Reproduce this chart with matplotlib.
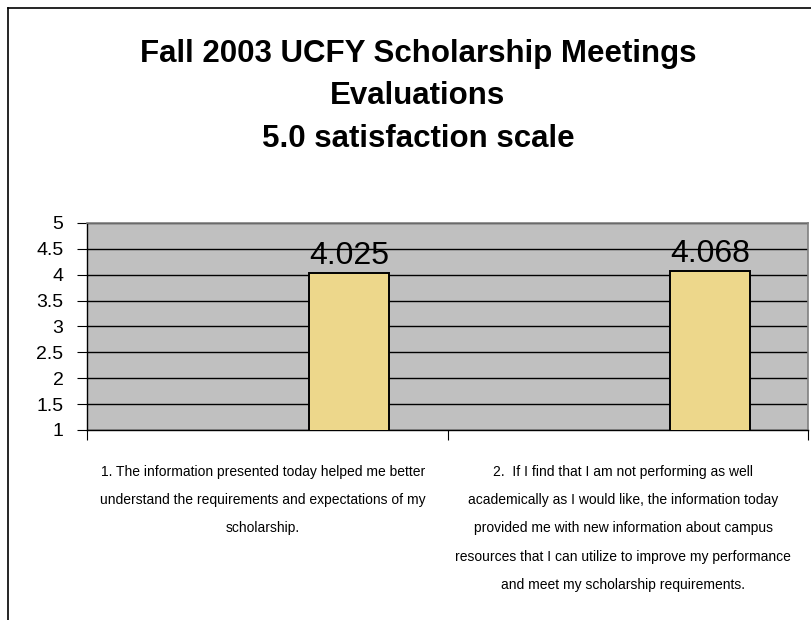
import matplotlib
matplotlib.use('Agg')
import matplotlib.pyplot as plt
from matplotlib.lines import Line2D

# ---- data ----
title_lines = ["Fall 2003 UCFY Scholarship Meetings", "Evaluations",
               "5.0 satisfaction scale"]
questions = [
    "1. The information presented today helped me better\n"
    "understand the requirements and expectations of my\n"
    "scholarship.",
    "2.  If I find that I am not performing as well\n"
    "academically as I would like, the information today\n"
    "provided me with new information about campus\n"
    "resources that I can utilize to improve my performance\n"
    "and meet my scholarship requirements.",
]
scores = [4.025, 4.068]
score_labels = ["4.025", "4.068"]
yticks = [1, 1.5, 2, 2.5, 3, 3.5, 4, 4.5, 5]
ytick_labels = ["1", "1.5", "2", "2.5", "3", "3.5", "4", "4.5", "5"]

plt.rcParams['font.family'] = ['Liberation Sans', 'DejaVu Sans']

W, H = 811, 620
fig = plt.figure(figsize=(W / 100, H / 100), dpi=100)

# outer chart border (cropped on right/bottom)
fig.add_artist(Line2D([8 / W, 8 / W], [0, 1 - 8 / H], color='black', lw=1.2))
fig.add_artist(Line2D([8 / W, 1], [1 - 8 / H, 1 - 8 / H], color='black', lw=1.2))

# title, three centred lines (chart area is wider than the crop)
for line, y_px in zip(title_lines, [62, 104, 147]):
    fig.text(418 / W, 1 - y_px / H, line, ha='center', va='baseline',
             fontsize=22.5, fontweight='bold')

ax = fig.add_axes([87 / W, 190 / H, 721 / W, 207 / H])
ax.set_facecolor('#C0C0C0')

idx = list(range(len(scores)))
xpos = [i + 0.228 for i in idx]
ax.bar(xpos, scores, width=0.222, color='#EDD78B', edgecolor='black',
       linewidth=1.4, zorder=3)

for x, v, s in zip(xpos, scores, score_labels):
    ax.annotate(s, (x, v), xytext=(0, 7), textcoords='offset points',
                ha='center', va='baseline', fontsize=23, zorder=4)

ax.set_ylim(1, 5)
ax.set_xlim(-0.5, len(scores) - 0.5)
ax.set_yticks(yticks)
ax.set_yticklabels(ytick_labels, fontsize=14)
ax.yaxis.grid(True, color='black', linewidth=1.0, zorder=1)
ax.set_axisbelow(True)

ax.set_xticks([i - 0.5 for i in range(len(scores) + 1)])
ax.set_xticklabels([])
ax.set_xticks([i - 0.0125 for i in idx], minor=True)
ax.set_xticklabels(questions, minor=True, fontsize=10, linespacing=2.3,
                   va='top')
ax.tick_params(axis='x', which='minor', length=0, pad=25)
ax.tick_params(axis='x', which='major', length=7, direction='out', width=0.8)
ax.tick_params(axis='y', length=7, direction='out', width=0.8, pad=10)

for side in ['top', 'right']:
    ax.spines[side].set_color('#808080')
    ax.spines[side].set_linewidth(1.2)
for side in ['left', 'bottom']:
    ax.spines[side].set_color('black')
    ax.spines[side].set_linewidth(1.0)

fig.savefig('out.png', dpi=100)
